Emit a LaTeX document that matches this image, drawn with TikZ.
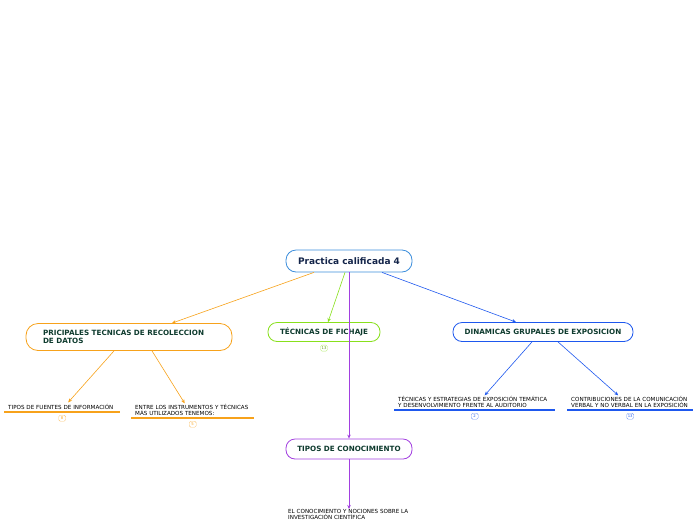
\documentclass[tikz,border=0pt]{standalone}
\usepackage{fontspec}
\setmainfont{DejaVu Sans}
\usetikzlibrary{arrows.meta, positioning}
\definecolor{mainbd}{HTML}{3C8EDC}
\definecolor{orng}{HTML}{F7A21B}
\definecolor{lime}{HTML}{88E01C}
\definecolor{blu}{HTML}{1E58EE}
\definecolor{purp}{HTML}{A23FE0}
\definecolor{txtdark}{HTML}{0E3B2E}
\definecolor{navy}{HTML}{14254A}

\begin{document}
\begin{tikzpicture}[
    x=1pt, y=-1pt,
    every node/.style={font=\fontsize{5.6}{6}\selectfont},
    topic/.style={rectangle, draw, rounded corners=9pt, fill=white, line width=0.8pt,
                  minimum height=19pt, text=txtdark, font=\fontsize{7.2}{8.6}\selectfont\bfseries},
    leaf/.style={anchor=south west, inner xsep=4pt, inner ysep=2pt, align=left, text=black},
    badge/.style={rectangle, draw, rounded corners=1.5pt, line width=0.4pt, inner sep=1pt,
                  minimum width=7pt, minimum height=6pt, font=\fontsize{3.8}{4}\selectfont},
    arr/.style={-{Stealth[length=4pt, width=3.5pt]}, line width=0.6pt}
]
    \useasboundingbox (0,0) rectangle (696,520);
    % central topic
    \node[topic, draw=mainbd, text=navy, minimum width=126pt, minimum height=22pt,
          rounded corners=10pt, font=\fontsize{9}{10}\selectfont\bfseries] (main) at (349,261) {Practica calificada 4};
    % main topics
    \node[topic, draw=orng, minimum width=206pt, minimum height=27pt, rounded corners=12pt,
          align=left, text width=172pt] (reco) at (129,337) {PRICIPALES TECNICAS DE RECOLECCION\\DE DATOS};
    \node[topic, draw=lime, minimum width=112pt] (fich) at (324,332) {TÉCNICAS DE FICHAJE};
    \node[topic, draw=blu, minimum width=180pt] (dina) at (543,332) {DINAMICAS GRUPALES DE EXPOSICION};
    \node[topic, draw=purp, minimum width=126pt, minimum height=20pt] (cono) at (349,449) {TIPOS DE CONOCIMIENTO};
    % sub topics
    \node[leaf, text width=108pt] (fuen) at (4,412) {TIPOS DE FUENTES DE INFORMACIÓN};
    \node[leaf, text width=115pt] (inst) at (131,418) {ENTRE LOS INSTRUMENTOS Y TÉCNICAS\\MÁS UTILIZADOS TENEMOS:};
    \node[leaf, text width=153pt] (estr) at (394,410) {TÉCNICAS Y ESTRATEGIAS DE EXPOSICIÓN TEMÁTICA\\Y DESENVOLVIMIENTO FRENTE AL AUDITORIO};
    \node[leaf, text width=118pt] (cont) at (567,410) {CONTRIBUCIONES DE LA COMUNICACIÓN\\VERBAL Y NO VERBAL EN LA EXPOSICIÓN};
    \node[leaf, text width=130pt, anchor=north west, inner ysep=0pt] (noci) at (284,509) {EL CONOCIMIENTO Y NOCIONES SOBRE LA\\INVESTIGACIÓN CIENTÍFICA};
    \draw[orng, line width=1.2pt] (fuen.south west) -- (fuen.south east);
    \draw[orng, line width=1.2pt] (inst.south west) -- (inst.south east);
    \draw[blu, line width=1.2pt] (estr.south west) -- (estr.south east);
    \draw[blu, line width=1.2pt] (cont.south west) -- (cont.south east);
    % counters
    \node[badge, draw=orng!60, text=orng, below=3pt of fuen.south] (b1) {8};
    \node[badge, draw=orng!60, text=orng, below=3pt of inst.south] (b2) {5};
    \node[badge, draw=lime!60, text=lime!70!black, below=3pt of fich.south] (b3) {13};
    \node[badge, draw=blu!60, text=blu, below=3pt of estr.south] (b4) {2};
    \node[badge, draw=blu!60, text=blu, below=3pt of cont.south] (b5) {13};
    % connectors
    \draw[arr, orng] ([xshift=-35pt]main.south) -- ([xshift=43pt]reco.north);
    \draw[arr, lime] ([xshift=-4pt]main.south) -- ([xshift=4pt]fich.north);
    \draw[arr, blu] ([xshift=33pt]main.south) -- ([xshift=-27pt]dina.north);
    \draw[arr, purp, line width=0.9pt] (main.south) -- (cono.north);
    \draw[arr, purp, line width=0.9pt] (cono.south) -- (noci.north -| cono.south);
    \draw[arr, orng] ([xshift=-15pt]reco.south) -- ([xshift=6pt]fuen.north);
    \draw[arr, orng] ([xshift=23pt]reco.south) -- ([xshift=-8pt, yshift=-1pt]inst.north);
    \draw[arr, blu] ([xshift=-11pt]dina.south) -- ([xshift=10pt, yshift=-1pt]estr.north);
    \draw[arr, blu] ([xshift=15pt]dina.south) -- ([xshift=-12pt, yshift=-1pt]cont.north);
\end{tikzpicture}
\end{document}
